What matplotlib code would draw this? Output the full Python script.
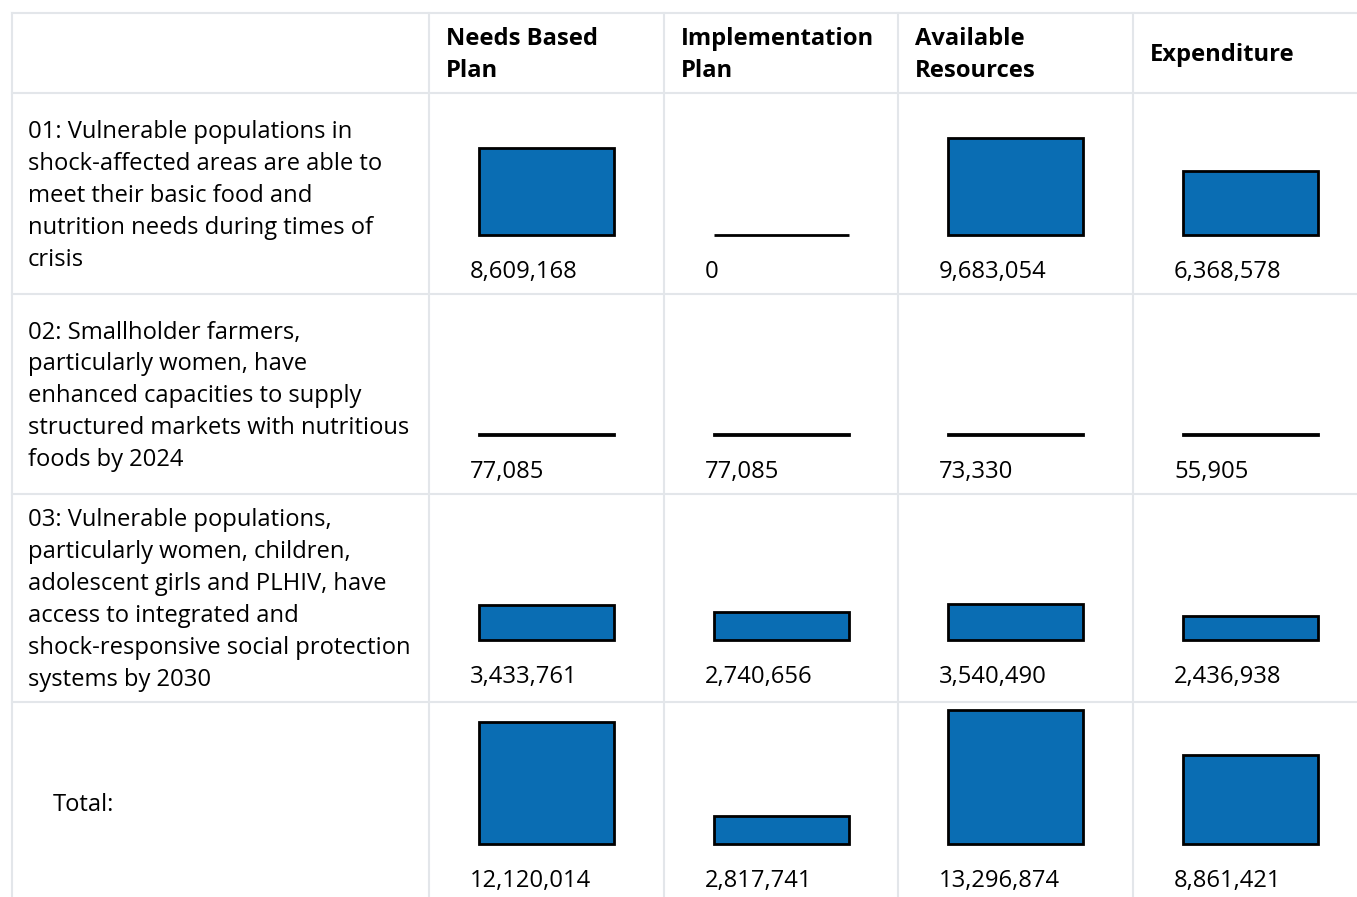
import matplotlib.pyplot as plt

# ---- data ----
columns = ["Needs Based\nPlan", "Implementation\nPlan", "Available\nResources", "Expenditure"]
outcomes = [
    "01: Vulnerable populations in\nshock-affected areas are able to\nmeet their basic food and\nnutrition needs during times of\ncrisis",
    "02: Smallholder farmers,\nparticularly women, have\nenhanced capacities to supply\nstructured markets with nutritious\nfoods by 2024",
    "03: Vulnerable populations,\nparticularly women, children,\nadolescent girls and PLHIV, have\naccess to integrated and\nshock-responsive social protection\nsystems by 2030",
]
needs_based = [8609168, 77085, 3433761]
implementation = [0, 77085, 2740656]
available = [9683054, 73330, 3540490]
expenditure = [6368578, 55905, 2436938]
totals = [12120014, 2817741, 13296874, 8861421]

# ---- layout (pixels) ----
W, H = 1357, 897
BLUE = "#0a6db3"
GRID = "#e3e6ea"
FONT = "Open Sans"
FS = 17.1
col_left = [429, 664, 898, 1133]
table_left = 12
h_lines = [13, 93, 294, 494, 702]
row_top = [93, 294, 494, 702]
row_bot = [294, 494, 702, 903]
baselines = [235, 435, 640, 844]
px_per_unit = 10.05e-6
line_h = 32

fig = plt.figure(figsize=(W / 100, H / 100), dpi=100)
ax = fig.add_axes([0, 0, 1, 1])
ax.set_xlim(0, W)
ax.set_ylim(H, 0)
ax.axis("off")

# grid
for y in h_lines:
    ax.plot([table_left, W], [y, y], color=GRID, lw=1.5, zorder=0)
for x in [table_left] + col_left:
    ax.plot([x, x], [h_lines[0], H], color=GRID, lw=1.5, zorder=0)

# header
for cl, name in zip(col_left, columns):
    lines = name.split("\n")
    y0 = 53 - (len(lines) - 1) * line_h / 2
    for i, ln in enumerate(lines):
        ax.text(cl + 17, y0 + i * line_h + 2, ln, family=FONT, fontsize=FS,
                fontweight="bold", va="center", ha="left", color="black")

# row labels
labels = outcomes + ["Total:"]
for r, lab in enumerate(labels):
    lines = lab.split("\n")
    mid = (row_top[r] + row_bot[r]) / 2
    y0 = mid - (len(lines) - 1) * line_h / 2
    x = 28 if r < 3 else 53
    for i, ln in enumerate(lines):
        ax.text(x, y0 + i * line_h + 2.5, ln, family=FONT, fontsize=FS,
                va="center", ha="left", color="black")

# values per row
rows = [list(v) for v in zip(needs_based, implementation, available, expenditure)]
rows.append(totals)

for r, vals in enumerate(rows):
    base = baselines[r]
    centers = [cl + 117.5 for cl in col_left]
    heights = [-v * px_per_unit for v in vals]
    ax.bar(centers, heights, width=135, bottom=base, color=BLUE,
           edgecolor="black", linewidth=2.0, zorder=2)
    for cl, v in zip(col_left, vals):
        ax.text(cl + 41, base + 37, f"{v:,}", family=FONT, fontsize=FS,
                va="center", ha="left", color="black")

fig.savefig("out.png", dpi=100)
